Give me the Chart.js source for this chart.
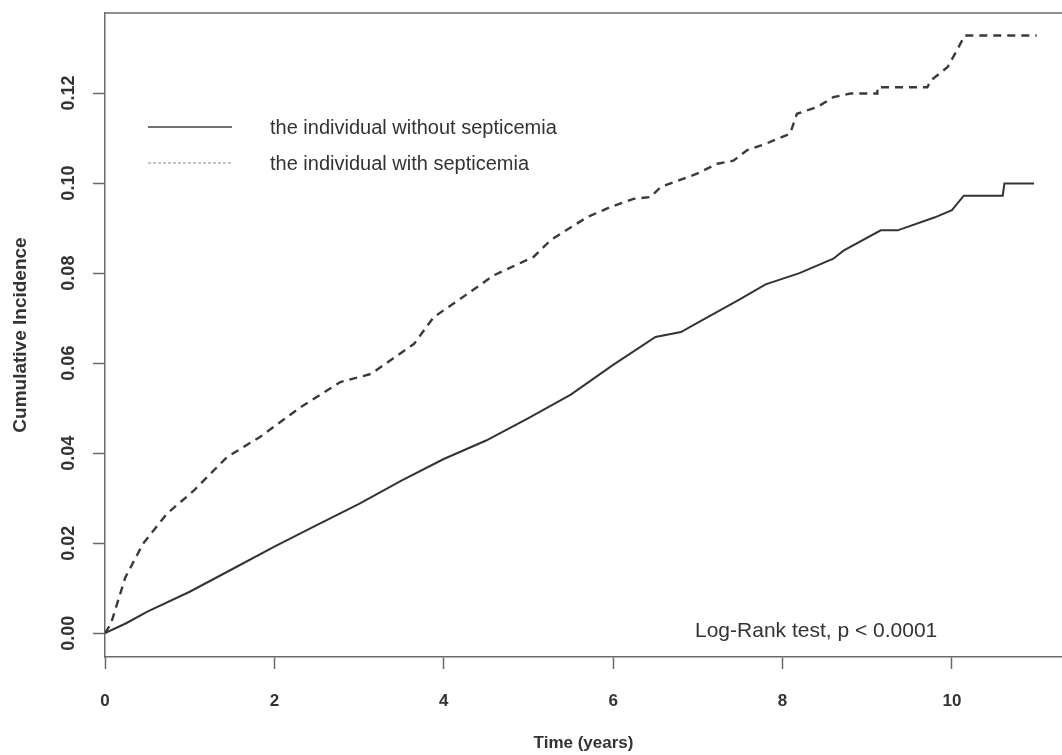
<!DOCTYPE html>
<html lang="en">
<head>
    <meta charset="UTF-8">
    <title>Cumulative Incidence</title>
    <script src="https://cdn.jsdelivr.net/npm/chart.js@4/dist/chart.umd.min.js"></script>
    <style>
        html, body { margin: 0; padding: 0; background: #fff; overflow: hidden; }
        #wrap { width: 1062px; height: 755px; }
    </style>
</head>
<body>
<div id="wrap"><canvas id="myChart" width="1062" height="755"></canvas></div>
<script>
    // Datos (tiempo en años, incidencia acumulada)
    const timeWithout = [0, 0.25, 0.5, 1.0, 1.5, 2.0, 2.5, 3.0, 3.5, 4.0, 4.5, 5.0, 5.5, 6.0, 6.5, 6.8, 7.0, 7.5, 7.8, 8.2, 8.6, 8.72, 9.16, 9.36, 9.8, 10.0, 10.14, 10.6, 10.62, 10.97];
    const incWithout  = [0, 0.0022, 0.0048, 0.0092, 0.0142, 0.0192, 0.0240, 0.0287, 0.0339, 0.0387, 0.0428, 0.0478, 0.0530, 0.0596, 0.0658, 0.0669, 0.0690, 0.0742, 0.0775, 0.0800, 0.0832, 0.0850, 0.0895, 0.0895, 0.0924, 0.0940, 0.0972, 0.0972, 0.0999, 0.0999];

    const timeWith = [0, 0.07, 0.24, 0.45, 0.73, 1.05, 1.44, 1.83, 2.31, 2.78, 3.14, 3.65, 3.88, 4.25, 4.59, 5.06, 5.26, 5.69, 5.97, 6.24, 6.44, 6.56, 6.99, 7.23, 7.42, 7.58, 7.81, 8.09, 8.17, 8.41, 8.60, 8.80, 9.12, 9.12, 9.71, 9.75, 9.95, 10.07, 10.15, 11.0];
    const incWith  = [0, 0.0021, 0.0124, 0.0199, 0.0265, 0.0317, 0.0391, 0.0436, 0.0502, 0.0558, 0.0576, 0.0643, 0.0702, 0.0750, 0.0795, 0.0836, 0.0873, 0.0924, 0.0947, 0.0965, 0.0969, 0.0991, 0.1021, 0.1043, 0.1050, 0.1073, 0.1088, 0.1110, 0.1154, 0.1169, 0.1191, 0.1199, 0.1199, 0.1213, 0.1213, 0.1228, 0.1258, 0.1299, 0.1328, 0.1328];

    const seriesNames = ['the individual without septicemia', 'the individual with septicemia'];
    const xTicks = [0, 2, 4, 6, 8, 10];
    const yTicks = [0.00, 0.02, 0.04, 0.06, 0.08, 0.10, 0.12];
    const testLabel = 'Log-Rank test, p < 0.0001';

    const FONT = '"Liberation Sans", Arial, sans-serif';
    const INK = '#333';
    const AXIS = '#6a6a6a';

    function toPoints(xs, ys) {
        return xs.map((x, i) => ({ x: x, y: ys[i] }));
    }

    // Marco superior, leyenda y texto del test
    const extras = {
        id: 'extras',
        afterDraw(chart) {
            const ctx = chart.ctx;
            const a = chart.chartArea;
            ctx.save();
            ctx.strokeStyle = AXIS;
            ctx.lineWidth = 1.5;
            ctx.beginPath();
            ctx.moveTo(a.left, a.top);
            ctx.lineTo(a.right, a.top);
            ctx.stroke();

            // leyenda
            ctx.font = '20px ' + FONT;
            ctx.fillStyle = INK;
            ctx.textBaseline = 'middle';
            const rows = [127, 163];
            rows.forEach((y, i) => {
                ctx.strokeStyle = i === 0 ? '#444' : '#888';
                ctx.lineWidth = i === 0 ? 1.5 : 1.2;
                ctx.setLineDash(i === 0 ? [] : [3, 2]);
                ctx.beginPath();
                ctx.moveTo(148, y);
                ctx.lineTo(232, y);
                ctx.stroke();
                ctx.fillText(seriesNames[i], 270, y + 1);
            });
            ctx.setLineDash([]);
            ctx.font = '21px ' + FONT;
            ctx.fillText(testLabel, 695, 631);
            ctx.restore();
        }
    };

    const ctx = document.getElementById('myChart').getContext('2d');
    new Chart(ctx, {
        type: 'line',
        data: {
            datasets: [{
                label: seriesNames[0],
                data: toPoints(timeWithout, incWithout),
                borderColor: '#333',
                borderWidth: 2,
                pointRadius: 0,
                fill: false,
                tension: 0
            }, {
                label: seriesNames[1],
                data: toPoints(timeWith, incWith),
                borderColor: '#3a3a3a',
                borderWidth: 2.4,
                borderDash: [8, 6],
                pointRadius: 0,
                fill: false,
                tension: 0
            }]
        },
        options: {
            responsive: false,
            animation: false,
            events: [],
            layout: { padding: { top: 13, right: 0, left: 0, bottom: 0 } },
            plugins: {
                legend: { display: false },
                tooltip: { enabled: false }
            },
            scales: {
                x: {
                    type: 'linear',
                    min: 0,
                    max: 11.3,
                    afterFit(scale) { scale.height = 98; },
                    afterBuildTicks(scale) { scale.ticks = xTicks.map(v => ({ value: v })); },
                    grid: { display: true, drawOnChartArea: false, drawTicks: true, tickLength: 12, tickColor: AXIS, tickWidth: 1.5 },
                    border: { display: true, color: AXIS, width: 1.5 },
                    ticks: {
                        padding: 22,
                        color: INK,
                        font: { family: FONT, size: 17, weight: 'bold' },
                        maxRotation: 0,
                        callback: v => String(v)
                    },
                    title: {
                        display: true,
                        text: 'Time (years)',
                        color: INK,
                        font: { family: FONT, size: 17, weight: 'bold' },
                        padding: { top: 0, bottom: 1 }
                    }
                },
                y: {
                    type: 'linear',
                    min: -0.0053,
                    max: 0.1378,
                    afterFit(scale) {
                        scale.width = 105;
                        scale.paddingTop = 0;
                        scale.paddingBottom = 0;
                    },
                    afterBuildTicks(scale) { scale.ticks = yTicks.map(v => ({ value: v })); },
                    grid: { display: true, drawOnChartArea: false, drawTicks: true, tickLength: 12, tickColor: AXIS, tickWidth: 1.5 },
                    border: { display: true, color: AXIS, width: 1.5 },
                    ticks: {
                        padding: 6,
                        minRotation: 90,
                        maxRotation: 90,
                        crossAlign: 'center',
                        color: INK,
                        font: { family: FONT, size: 18, weight: 'bold' },
                        callback: v => v.toFixed(2)
                    },
                    title: {
                        display: true,
                        text: 'Cumulative Incidence',
                        color: INK,
                        font: { family: FONT, size: 19, weight: 'bold' },
                        padding: { top: 9, bottom: 0 }
                    }
                }
            }
        },
        plugins: [extras]
    });
</script>
</body>
</html>
